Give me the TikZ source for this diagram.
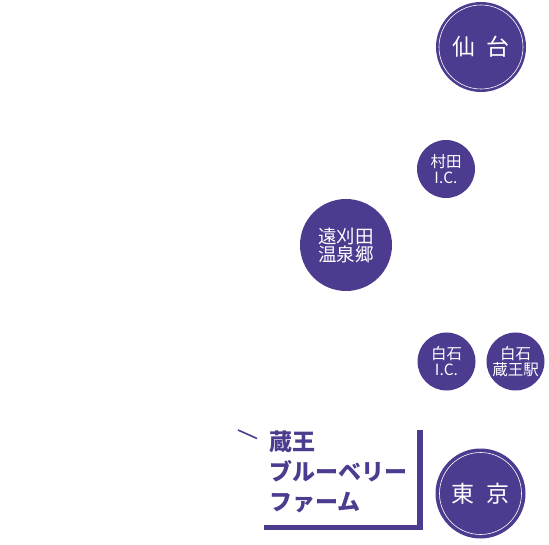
\documentclass[tikz,border=0pt]{standalone}
\usepackage{fontspec}
\newfontfamily\jp{Noto Sans CJK JP}
\definecolor{mp}{RGB}{76,59,143}
\begin{document}
\begin{tikzpicture}[x=1pt,y=-1pt,
  spot/.style={circle,fill=mp,text=white,inner sep=0pt,align=center,font=\jp},
  bigspot/.style={spot,minimum size=90pt,font=\jp\fontsize{23}{23}\selectfont},
  ring/.style={draw=white,line width=0.6pt},
  midspot/.style={spot,minimum size=92pt,font=\jp\fontsize{18.5}{21}\selectfont},
  smallspot/.style={spot,minimum size=58pt,font=\jp\fontsize{15.5}{20}\selectfont},
  farmtext/.style={text=mp,align=left,anchor=north west,inner sep=0pt,font=\jp\bfseries\fontsize{23}{30}\selectfont},
  bracket/.style={draw=mp,line width=5.5pt}]
\useasboundingbox (0,0) rectangle (549,545);
\node[bigspot] (sendai) at (481,47) {仙\hspace{0.5em}台};
\draw[ring] (sendai.center) circle (42);
\node[smallspot] (murata) at (446,169) {村田\\[-4pt]I.C.};
\node[midspot] (togatta) at (346,245) {遠刈田\\[-3pt]温泉郷};
\node[smallspot] (shiroic) at (446.5,361.5) {白石\\[-4pt]I.C.};
\node[smallspot] (shiroeki) at (515.5,361.5) {白石\\[-4pt]蔵王駅};
\node[bigspot] (tokyo) at (480.5,493.5) {東\hspace{0.5em}京};
\draw[ring] (tokyo.center) circle (41);
\node[farmtext] (farm) at (269,431) {蔵王\\ブルーベリー\\ファーム};
\coordinate (bl) at (264,527.5);
\coordinate (br) at (420,527.5);
\coordinate (bt) at (420,430);
\draw[bracket] (bl) -- (br |- bl) -- (bt);
\coordinate (d1) at (238,430);
\coordinate (d2) at (257,438.5);
\draw[mp,line width=1.6pt] (d1) -- (d2);
\end{tikzpicture}
\end{document}
